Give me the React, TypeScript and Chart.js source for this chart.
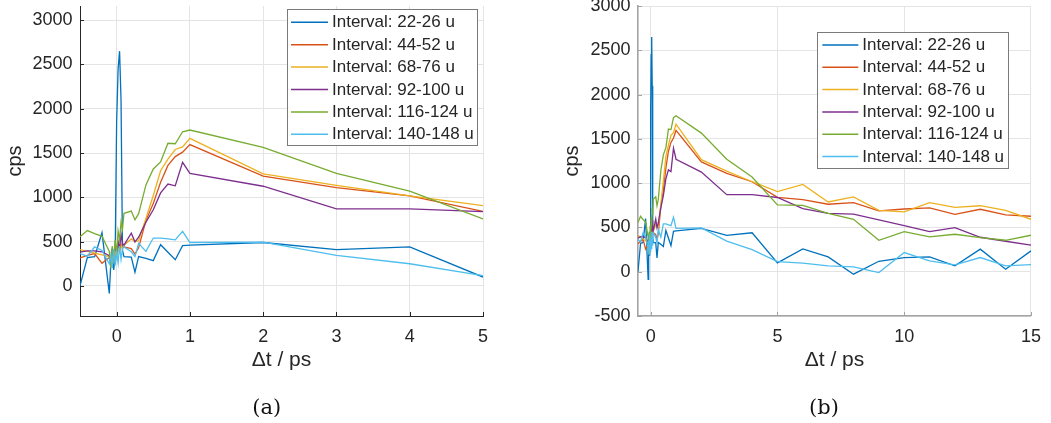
import React, { useEffect, useRef } from "react";
import { Chart, registerables } from "chart.js";

Chart.register(...registerables);

// ---- data ----
const times = [
  -0.5, -0.4, -0.3, -0.2, -0.1, -0.08, -0.06, -0.04, -0.02, 0, 0.02, 0.04, 0.06, 0.08, 0.1,
  0.2, 0.25, 0.3, 0.4, 0.5, 0.6, 0.7, 0.8, 0.9, 1, 2, 3, 4, 5, 6, 7, 8, 9, 10, 11, 12, 13, 14, 15,
];

const interval22_26 = [
  0, 320, 330, 600, -85, 250, 420, 180, 350, 1850, 2450, 2650, 2100, 400, 330,
  325, 155, 330, 310, 285, 465, 380, 295, 455, 460, 490, 410, 440, 100, 258, 167, -28, 118, 160, 167, 66, 255, 28, 235,
];
const interval44_52 = [
  315, 345, 365, 255, 320, 290, 380, 300, 420, 350, 480, 400, 470, 430, 440,
  420, 360, 430, 740, 930, 1170, 1360, 1460, 1510, 1595, 1240, 1110, 1016, 840, 814, 762, 779, 686, 708, 720, 648, 705, 641, 626,
];
const interval68_76 = [
  410, 390, 370, 350, 330, 250, 350, 280, 400, 320, 420, 380, 460, 420, 460,
  530, 500, 510, 760, 1020, 1300, 1430, 1540, 1570, 1665, 1265, 1135, 1016, 905, 986, 787, 845, 693, 675, 779, 726, 745, 693, 592,
];
const interval92_100 = [
  380, 395, 395, 385, 340, 280, 400, 330, 450, 380, 500, 420, 580, 480, 460,
  595, 497, 550, 720, 860, 1050, 1150, 1130, 1395, 1270, 1125, 870, 870, 838, 712, 659, 651, 584, 520, 453, 498, 389, 344, 299,
];
const interval116_124 = [
  555, 625, 590, 560, 390, 200, 450, 280, 520, 350, 620, 520, 720, 640, 820,
  845, 745, 815, 1140, 1320, 1400, 1610, 1605, 1740, 1760, 1565, 1270, 1070, 755, 750, 659, 592, 355, 453, 393, 423, 385, 355, 412,
];
const interval140_148 = [
  365, 335, 440, 400, 250, 350, 200, 420, 230, 380, 260, 450, 300, 420, 440,
  385, 330, 480, 390, 540, 540, 530, 520, 615, 490, 495, 345, 250, 115, 96, 66, 55, -9, 216, 122, 77, 160, 66, 81,
];

const seriesLabels = [
  "Interval: 22-26 u",
  "Interval: 44-52 u",
  "Interval: 68-76 u",
  "Interval: 92-100 u",
  "Interval: 116-124 u",
  "Interval: 140-148 u",
];
const seriesValues = [interval22_26, interval44_52, interval68_76, interval92_100, interval116_124, interval140_148];
const seriesColors = ["#0072BD", "#D95319", "#EDB120", "#7E2F8E", "#77AC30", "#4DBEEE"];

const xTicksA = [0, 1, 2, 3, 4, 5];
const xTicksB = [0, 5, 10, 15];
const yTicksA = [0, 500, 1000, 1500, 2000, 2500, 3000];
const yTicksB = [-500, 0, 500, 1000, 1500, 2000, 2500, 3000];

const xTitle = "\u0394t / ps";
const yTitle = "cps";

// ---- styling ----
const SANS = "'Liberation Sans', Arial, Helvetica, sans-serif";
const TEXT = "#262626";
const GRID = "#e4e4e4";

const boxLegend = {
  id: "boxLegend",
  afterDraw(chart: any, _args: any, o: any) {
    const { ctx } = chart;
    ctx.save();
    ctx.fillStyle = "#ffffff";
    ctx.fillRect(o.x, o.y, o.w, o.h);
    ctx.strokeStyle = "#7a7a7a";
    ctx.lineWidth = 1;
    ctx.strokeRect(Math.round(o.x) + 0.5, Math.round(o.y) + 0.5, Math.round(o.w), Math.round(o.h));
    chart.data.datasets.forEach((ds: any, i: number) => {
      const cy = o.y + o.first + i * o.rowH;
      ctx.strokeStyle = ds.borderColor;
      ctx.lineWidth = 1.5;
      ctx.beginPath();
      ctx.moveTo(o.x + o.l0, cy);
      ctx.lineTo(o.x + o.l1, cy);
      ctx.stroke();
      ctx.fillStyle = TEXT;
      ctx.font = `17px ${SANS}`;
      ctx.textBaseline = "middle";
      ctx.textAlign = "left";
      ctx.fillText(ds.label, o.x + o.tx, cy + 0.5);
    });
    ctx.restore();
  },
};

const inwardTicks = {
  id: "inwardTicks",
  beforeDatasetsDraw(chart: any, _args: any, o: any) {
    const { ctx, chartArea: ca, scales } = chart;
    ctx.save();
    ctx.strokeStyle = o.color;
    ctx.lineWidth = 1;
    ctx.beginPath();
    scales.x.ticks.forEach((t: any) => {
      const p = Math.round(scales.x.getPixelForValue(t.value)) + 0.5;
      ctx.moveTo(p, ca.bottom);
      ctx.lineTo(p, ca.bottom - 4);
    });
    scales.y.ticks.forEach((t: any) => {
      const p = Math.round(scales.y.getPixelForValue(t.value)) + 0.5;
      ctx.moveTo(ca.left, p);
      ctx.lineTo(ca.left + 4, p);
    });
    ctx.stroke();
    ctx.restore();
  },
};

type Spec = {
  xMax: number;
  yMin: number;
  yMax: number;
  xTicks: number[];
  yTicks: number[];
  axisColor: string;
  axisWidth: number;
  yWidth: number;
  yTitlePad: number;
  padRight: number;
  legend: any;
};

function buildConfig(spec: Spec): any {
  const datasets = seriesLabels.map((label, i) => ({
    label,
    data: times.map((t, k) => ({ x: t, y: seriesValues[i][k] })),
    borderColor: seriesColors[i],
    backgroundColor: seriesColors[i],
    borderWidth: 1.3,
    pointRadius: 0,
    tension: 0,
    fill: false,
    order: seriesLabels.length - i,
  }));
  return {
    type: "line",
    data: { datasets },
    plugins: [boxLegend, inwardTicks],
    options: {
      animation: false,
      responsive: false,
      devicePixelRatio: 1,
      layout: { padding: { left: 0, top: 26, right: spec.padRight, bottom: 37 } },
      plugins: {
        legend: { display: false },
        tooltip: { enabled: false },
        boxLegend: spec.legend,
        inwardTicks: { color: spec.axisColor },
      },
      scales: {
        x: {
          type: "linear",
          min: -0.5,
          max: spec.xMax,
          afterBuildTicks: (s: any) => {
            s.ticks = spec.xTicks.map((v) => ({ value: v }));
          },
          afterFit: (s: any) => {
            s.height = 70;
          },
          grid: { color: GRID, lineWidth: 1, drawTicks: false },
          border: { color: spec.axisColor, width: spec.axisWidth },
          ticks: {
            padding: 10,
            color: TEXT,
            font: { family: SANS, size: 18 },
            maxRotation: 0,
            autoSkip: false,
            callback: (v: any) => String(v),
          },
          title: {
            display: true,
            text: xTitle,
            color: TEXT,
            font: { family: SANS, size: 21 },
            padding: { top: 0, bottom: 13.5 },
          },
        },
        y: {
          type: "linear",
          min: spec.yMin,
          max: spec.yMax,
          afterBuildTicks: (s: any) => {
            s.ticks = spec.yTicks.map((v) => ({ value: v }));
          },
          afterFit: (s: any) => {
            s.width = spec.yWidth;
          },
          grid: { color: GRID, lineWidth: 1, drawTicks: false },
          border: { color: spec.axisColor, width: spec.axisWidth },
          ticks: {
            padding: 7.5,
            color: TEXT,
            font: { family: SANS, size: 18 },
            autoSkip: false,
            callback: (v: any) => String(v),
          },
          title: {
            display: true,
            text: yTitle,
            color: TEXT,
            font: { family: SANS, size: 20 },
            padding: { top: spec.yTitlePad, bottom: 0 },
          },
        },
      },
    },
  };
}

function Panel({ left, width, spec }: { left: number; width: number; spec: Spec }) {
  const ref = useRef<HTMLCanvasElement>(null);
  useEffect(() => {
    if (!ref.current) return;
    const chart = new Chart(ref.current, buildConfig(spec));
    return () => chart.destroy();
  }, []);
  return (
    <div style={{ position: "absolute", left, top: -20, width, height: 443 }}>
      <canvas ref={ref} width={width} height={443} style={{ display: "block", width, height: 443 }} />
    </div>
  );
}

const specA: Spec = {
  xMax: 5,
  yMin: -340,
  yMax: 3160,
  xTicks: xTicksA,
  yTicks: yTicksA,
  axisColor: "#262626",
  axisWidth: 1,
  yWidth: 80,
  yTitlePad: 3,
  padRight: 42,
  legend: { x: 287, y: 29, w: 190, h: 136, first: 13.3, rowH: 22.4, l0: 4, l1: 41, tx: 45 },
};

const specB: Spec = {
  xMax: 15,
  yMin: -500,
  yMax: 3000,
  xTicks: xTicksB,
  yTicks: yTicksB,
  axisColor: "#a3a3a3",
  axisWidth: 1.6,
  yWidth: 113,
  yTitlePad: 35.5,
  padRight: 12.7,
  legend: { x: 292.3, y: 52.3, w: 191, h: 136, first: 12.7, rowH: 22.3, l0: 5, l1: 41, tx: 45 },
};

const captionStyle: React.CSSProperties = {
  position: "absolute",
  width: 100,
  textAlign: "center",
  fontFamily: "'DejaVu Serif', 'Liberation Serif', serif",
  fontSize: 21,
  lineHeight: "22px",
  color: "#111",
};

export default function App() {
  return (
    <div style={{ position: "absolute", left: 0, top: 0, width: 1051, height: 423, overflow: "hidden", background: "#fff" }}>
      <Panel left={0} width={525} spec={specA} />
      <Panel left={525} width={526} spec={specB} />
      <div style={{ ...captionStyle, left: 266.7 - 50, top: 396 }}>(a)</div>
      <div style={{ ...captionStyle, left: 824 - 50, top: 396 }}>(b)</div>
    </div>
  );
}
